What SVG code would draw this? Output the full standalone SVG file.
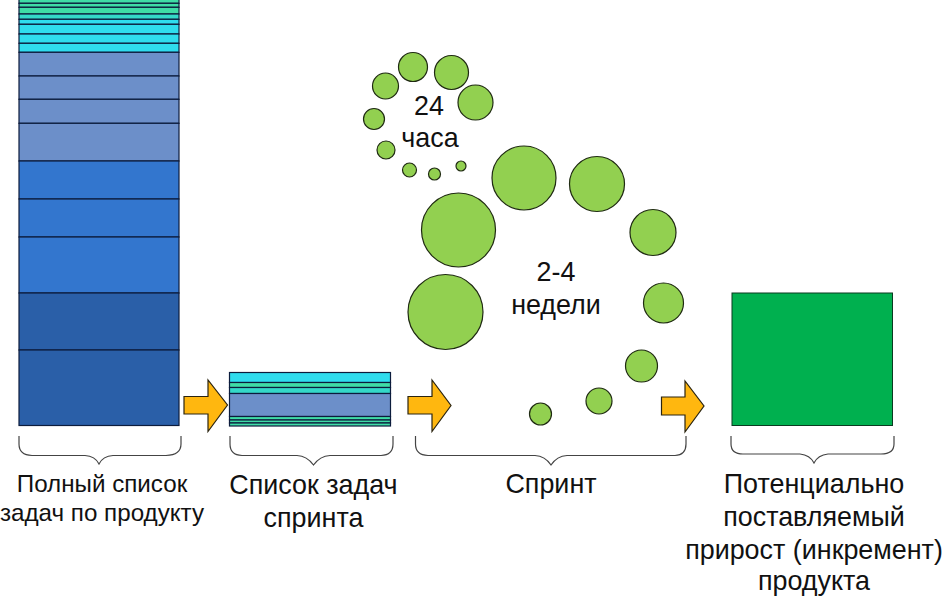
<svg xmlns="http://www.w3.org/2000/svg" width="949" height="596" viewBox="0 0 949 596">
<style>
text{font-family:"Liberation Sans",Arial,sans-serif;font-size:26.900px;fill:#111;text-anchor:middle}
.s{font-size:24.200px}
.r{stroke:#0c1c3c;stroke-width:1.2}
.g{fill:#92d050;stroke:#1f2a12;stroke-width:1.2}
.a{fill:#ffb70f;stroke:#2a2410;stroke-width:1.2}
.b{fill:none;stroke:#444;stroke-width:1.2}
.t{fill:#3fdca6}.c{fill:#2fdcee}.p{fill:#6c8fc9}.m{fill:#3376ce}.d{fill:#2a5fa8}
</style>
<rect width="949" height="596" fill="#fff"/>
<g id="backlog">
<rect class="r t" x="19" y="-1" width="160" height="4.3"/>
<rect class="r t" x="19" y="3.3" width="160" height="4"/>
<rect class="r t" x="19" y="7.3" width="160" height="6.7"/>
<rect class="r" fill="#34d8c8" x="19" y="14" width="160" height="5.3"/>
<rect class="r c" x="19" y="19.3" width="160" height="5"/>
<rect class="r c" x="19" y="24.3" width="160" height="9.7"/>
<rect class="r c" x="19" y="34" width="160" height="9.3"/>
<rect class="r c" x="19" y="43.3" width="160" height="9"/>
<rect class="r p" x="19" y="52.3" width="160" height="23.7"/>
<rect class="r p" x="19" y="76" width="160" height="23.3"/>
<rect class="r p" x="19" y="99.3" width="160" height="24"/>
<rect class="r p" x="19" y="123.3" width="160" height="37.7"/>
<rect class="r m" x="19" y="161" width="160" height="38"/>
<rect class="r m" x="19" y="199" width="160" height="38"/>
<rect class="r m" x="19" y="237" width="160" height="56"/>
<rect class="r d" x="19" y="293" width="160" height="57"/>
<rect class="r d" x="19" y="350" width="160" height="75.500"/>
</g>
<g id="sprint-backlog">
<rect class="r c" x="229.500" y="372.500" width="161" height="10"/>
<rect class="r t" x="229.500" y="382.500" width="161" height="5"/>
<rect class="r" fill="#34d8c8" x="229.500" y="387.500" width="161" height="6"/>
<rect class="r p" x="229.500" y="393.500" width="161" height="23"/>
<rect class="r t" x="229.500" y="416.500" width="161" height="3.500"/>
<rect class="r t" x="229.500" y="420" width="161" height="3"/>
<rect class="r t" x="229.500" y="423" width="161" height="3"/>
</g>
<g id="increment"><rect x="732" y="293" width="160.500" height="132.500" fill="#00b04f" stroke="#0a3a20" stroke-width="1"/></g>
<g id="daily-circles">
<circle class="g" cx="385.500" cy="86" r="13"/>
<circle class="g" cx="413" cy="67" r="14.500"/>
<circle class="g" cx="451.500" cy="72.500" r="17"/>
<circle class="g" cx="475.500" cy="102.500" r="17.500"/>
<circle class="g" cx="374" cy="119" r="10.500"/>
<circle class="g" cx="386" cy="150" r="9"/>
<circle class="g" cx="409.500" cy="170" r="7"/>
<circle class="g" cx="434.500" cy="174" r="6"/>
<circle class="g" cx="461" cy="166" r="5"/>
</g>
<g id="sprint-circles">
<circle class="g" cx="524" cy="178" r="32"/>
<circle class="g" cx="597" cy="184" r="27.500"/>
<circle class="g" cx="653" cy="232.500" r="23"/>
<circle class="g" cx="663.500" cy="303" r="20"/>
<circle class="g" cx="641.500" cy="366" r="16"/>
<circle class="g" cx="599" cy="401" r="13"/>
<circle class="g" cx="540.500" cy="414" r="11"/>
<circle class="g" cx="458.500" cy="230" r="37"/>
<circle class="g" cx="445.500" cy="312" r="37.500"/>
</g>
<g id="connectors">
<path id="arrow-1" class="a" d="M184 396.500H208V380L227.500 405L208 431.500V414H184Z"/>
<path id="arrow-2" class="a" d="M408 396.500H432V380L451 405.500L432 431.500V414H408Z"/>
<path id="arrow-3" class="a" d="M661.500 397H685V381L704 406L685 432V415H661.500Z"/>
</g>
<g id="braces">
<path class="b" d="M19 436V444Q19 455 32 455.500H85Q95 456 99 464Q103 456 113 455.500H166Q181 455 181 444V436"/>
<path class="b" d="M230 436V444Q230 455 242 455.500H297Q307 456 313.500 465Q320 456 330 455.500H381Q393 455 393 444V436"/>
<path class="b" d="M415.500 436V444Q415.500 455 428 455.500H535Q545 456 551 465Q557 456 567 455.500H675Q686 455 686 444V436"/>
<path class="b" d="M731 436V444Q731 454 743 454H800Q810 455 814 463Q818 455 828 454H881Q894 454 894 444V436"/>
</g>
<g id="labels">
<text class="s" x="102" y="492">Полный список</text>
<text class="s" x="102" y="521">задач по продукту</text>
<text x="313.500" y="494">Список задач</text>
<text x="313.500" y="527">спринта</text>
<text x="551" y="493">Спринт</text>
<text x="814" y="493">Потенциально</text>
<text x="814" y="526">поставляемый</text>
<text x="814" y="559">прирост (инкремент)</text>
<text x="814" y="590">продукта</text>
<text x="429" y="115">24</text>
<text x="430" y="147">часа</text>
<text x="556" y="281">2-4</text>
<text x="556" y="314">недели</text>
</g>
</svg>
